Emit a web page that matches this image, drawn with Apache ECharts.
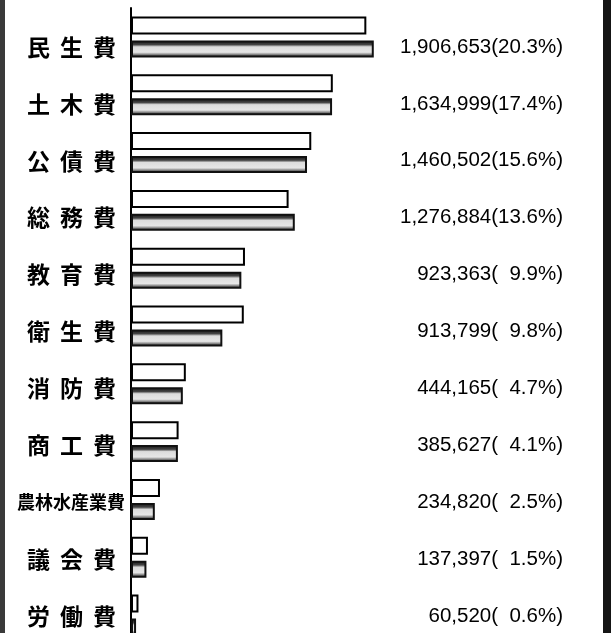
<!DOCTYPE html>
<html>
<head>
<meta charset="utf-8">
<script src="https://cdn.jsdelivr.net/npm/echarts@6/dist/echarts.min.js"></script>
<style>
html,body{margin:0;padding:0;background:#fff;overflow:hidden;}
#chart{width:611px;height:660px;}
</style>
</head>
<body>
<div id="chart"></div>
<script>
// ---- data ----
var categories = ['民生費','土木費','公債費','総務費','教育費','衛生費','消防費','商工費','農林水産業費','議会費','労働費'];
var currentValues = [1906653,1634999,1460502,1276884,923363,913799,444165,385627,234820,137397,60520];
var sharePercent = [20.3,17.4,15.6,13.6,9.9,9.8,4.7,4.1,2.5,1.5,0.6];
var previousValues = [1967000,1629000,1426000,1327000,894000,740000,420000,380000,193000,125000,41000];

function fmtRight(v, i) {
  var p = sharePercent[i].toFixed(1);
  if (sharePercent[i] < 10) p = '  ' + p;
  return currentValues[i].toLocaleString('en-US') + '(' + p + '%)';
}
function fmtLeft(v) {
  var chars = v.split('');
  var style = chars.length > 3 ? 'n' : 'c';
  var s = chars.map(function (ch) { return '{' + style + '|' + ch + '}'; }).join('');
  if (style === 'c') s += '{s| }';
  return s;
}

var chart = echarts.init(document.getElementById('chart'), null, {renderer: 'canvas'});
var cjk = '"Noto Sans CJK JP", "Noto Sans CJK SC", sans-serif';
chart.setOption({
  animation: false,
  backgroundColor: '#ffffff',
  grid: [
    {left: 131, top: 8, width: 432, height: 636, containLabel: false},
    {left: 131, top: 18.5, width: 432, height: 626, containLabel: false}
  ],
  xAxis: [
    {type: 'value', min: 0, max: 3500000, show: false, gridIndex: 0},
    {type: 'value', min: 0, max: 3500000, show: false, gridIndex: 1}
  ],
  yAxis: [
    {
      type: 'category', data: categories, inverse: true, position: 'left', gridIndex: 0,
      axisLine: {show: true, lineStyle: {color: '#000', width: 2}},
      axisTick: {show: false}, splitLine: {show: false}, axisLabel: {show: false}
    },
    {
      type: 'category', data: categories, inverse: true, position: 'left', gridIndex: 1,
      axisLine: {show: false}, axisTick: {show: false}, splitLine: {show: false},
      axisLabel: {
        margin: 6, formatter: fmtLeft, color: '#000',
        rich: {
          c: {fontSize: 23, fontWeight: 'bold', width: 33, align: 'center', fontFamily: cjk, color: '#000'},
          n: {fontSize: 18, fontWeight: 'bold', width: 18, align: 'center', fontFamily: cjk, color: '#000'},
          s: {width: 4, fontSize: 10}
        }
      }
    },
    {
      type: 'category', data: categories, inverse: true, position: 'right', gridIndex: 1,
      axisLine: {show: false}, axisTick: {show: false}, splitLine: {show: false},
      axisLabel: {
        inside: true, margin: 0, formatter: fmtRight,
        fontSize: 20.5, fontFamily: '"Liberation Sans", Arial, sans-serif', color: '#000'
      }
    }
  ],
  series: [
    {
      type: 'bar', name: '当年', data: currentValues, xAxisIndex: 0, yAxisIndex: 0,
      barWidth: 18, barGap: '33%',
      itemStyle: {color: '#ffffff', borderColor: '#000', borderWidth: 2}
    },
    {
      type: 'bar', name: '前年', data: previousValues, xAxisIndex: 0, yAxisIndex: 0,
      barWidth: 17,
      itemStyle: {
        borderColor: '#111', borderWidth: 2,
        color: {type: 'linear', x: 0, y: 0, x2: 0, y2: 1, colorStops: [
          {offset: 0, color: '#111'}, {offset: 0.25, color: '#444'},
          {offset: 0.38, color: '#dcdcdc'}, {offset: 0.7, color: '#e6e6e6'},
          {offset: 0.85, color: '#777'}, {offset: 1, color: '#222'}
        ]}
      }
    }
  ],
  graphic: [
    {type: 'rect', left: 0, top: 0, shape: {width: 5, height: 660}, style: {fill: '#3a3a3a'}, silent: true},
    {type: 'rect', left: 603, top: 0, shape: {width: 8, height: 660}, style: {fill: '#151515'}, silent: true}
  ]
});
</script>
</body>
</html>
